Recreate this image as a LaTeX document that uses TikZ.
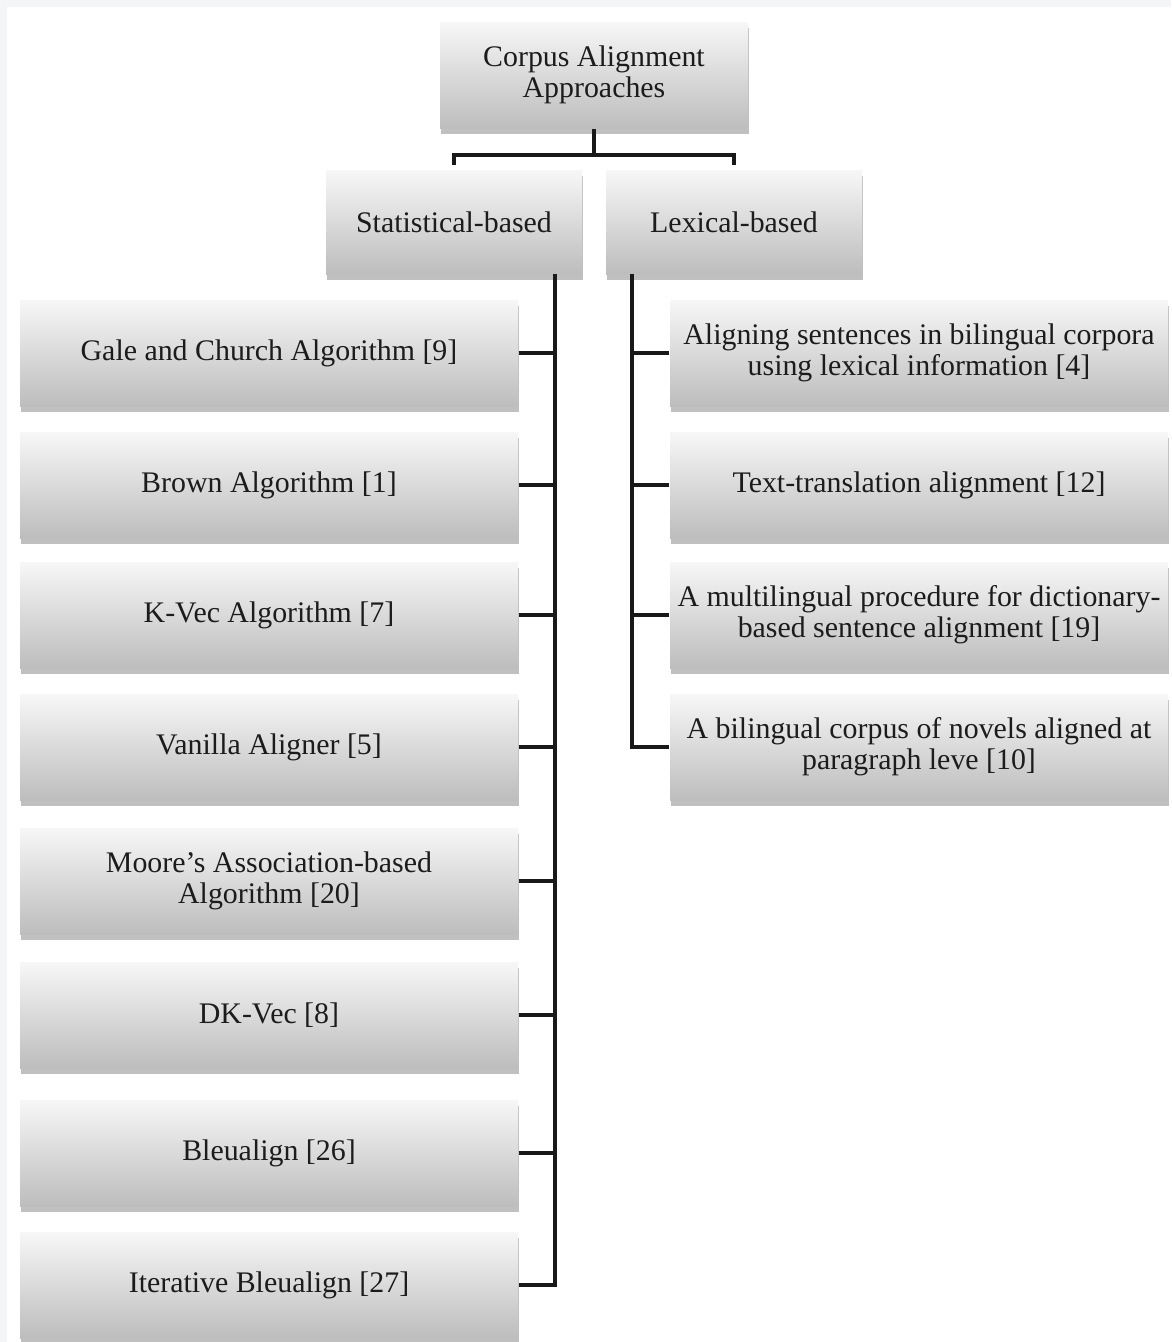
\documentclass[tikz,border=0pt]{standalone}
\usepackage{fontspec}
\setmainfont{Liberation Serif}
\usetikzlibrary{positioning, shadows}
\definecolor{boxTop}{HTML}{F7F7F7}
\definecolor{boxBot}{HTML}{BDBDBD}
\definecolor{pageGrey}{HTML}{F4F5F7}
\definecolor{inkDark}{HTML}{1C1C1C}

\begin{document}
\begin{tikzpicture}[
   approach/.style={rectangle, top color=boxTop, bottom color=boxBot,
               draw=none, inner sep=0pt, align=center, text=inkDark,
               font=\fontsize{8.5}{8.8}\selectfont,
               drop shadow={shadow xshift=0.3pt, shadow yshift=-1.6pt,
                            opacity=0.35, fill=black!70}},
   head/.style={approach, minimum width=2.56cm, minimum height=1.04cm},
   leaf/.style={approach, minimum width=4.98cm, minimum height=1.06cm},
   link/.style={draw=black!90, line width=0.95pt}]

% page
\fill[pageGrey] (0,0) rectangle (11.71,-13.42);
\fill[white] (0.07,-0.07) rectangle (11.71,-13.42);
\useasboundingbox (0,0) rectangle (11.71,-13.42);

\node[approach, minimum width=3.08cm, minimum height=1.06cm] (root) at (5.94,-0.75)
  {Corpus Alignment\\Approaches};

\node[head] (stat) at (4.54,-2.22) {Statistical-based};
\node[head] (lex)  at (7.34,-2.22) {Lexical-based};

% statistical methods
\node[leaf] (gale)  at (2.69,-3.53)  {Gale and Church Algorithm [9]};
\node[leaf] (brown) at (2.69,-4.85)  {Brown Algorithm [1]};
\node[leaf] (kvec)  at (2.69,-6.15)  {K-Vec Algorithm [7]};
\node[leaf] (van)   at (2.69,-7.47)  {Vanilla Aligner [5]};
\node[leaf] (moore) at (2.69,-8.81)  {Moore’s Association-based\\Algorithm [20]};
\node[leaf] (dkvec) at (2.69,-10.15) {DK-Vec [8]};
\node[leaf] (bleu)  at (2.69,-11.53) {Bleualign [26]};
\node[leaf] (iter)  at (2.69,-12.85) {Iterative Bleualign [27]};

% lexical methods
\node[leaf] (lexinfo) at (9.19,-3.53) {Aligning sentences in bilingual corpora\\using lexical information [4]};
\node[leaf] (texttr)  at (9.19,-4.85) {Text-translation alignment [12]};
\node[leaf] (multi)   at (9.19,-6.15) {A multilingual procedure for dictionary-\\based sentence alignment [19]};
\node[leaf] (novels)  at (9.19,-7.47) {A bilingual corpus of novels aligned at\\paragraph leve [10]};

% tree lines
\coordinate (fork) at (5.94,-1.55);
\coordinate (sTop) at (5.55,-2.74);
\coordinate (lTop) at (6.32,-2.74);

\draw[link] (root) -- (fork);
\draw[link] ([yshift=1.2pt]stat.north) |- (fork) -| ([yshift=1.2pt]lex.north);

\draw[link] (sTop) |- (iter.east);
\foreach \n in {gale,brown,kvec,van,moore,dkvec,bleu}
  \draw[link] (\n.east) -- (\n.east -| sTop);

\draw[link] (lTop) |- (novels.west);
\foreach \n in {lexinfo,texttr,multi}
  \draw[link] (\n.west) -- (\n.west -| lTop);
\end{tikzpicture}
\end{document}
